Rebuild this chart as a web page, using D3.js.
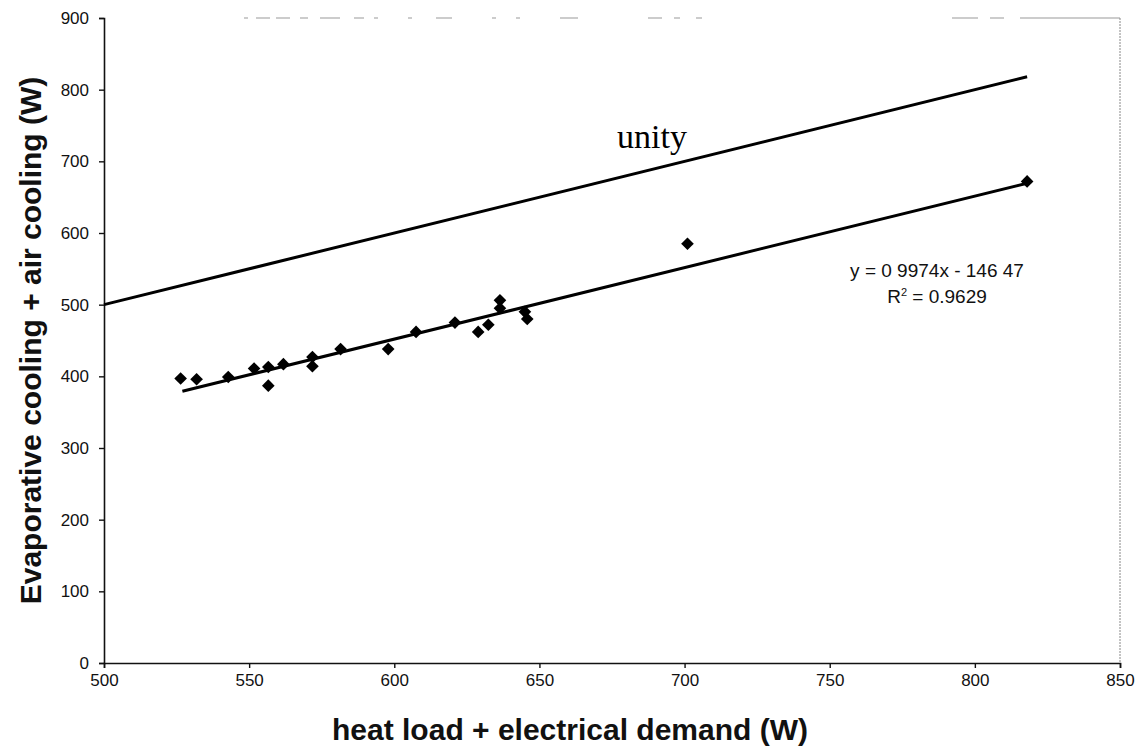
<!DOCTYPE html>
<html>
<head>
<meta charset="utf-8">
<script src="https://cdn.jsdelivr.net/npm/d3@7"></script>
<style>
  body { margin: 0; background: #fff; }
  svg { display: block; font-family: "Liberation Sans", Arial, sans-serif; }
</style>
</head>
<body>
<div id="chart"></div>
<script>
// measured points: heat load + electrical demand (W) vs evaporative + air cooling (W)
const demandW = [526.4, 531.9, 542.8, 551.7, 556.6, 556.6, 561.8, 571.8, 571.8, 581.5,
                 597.9, 607.5, 620.9, 628.9, 632.4, 636.4, 636.4, 645.0, 645.8, 701.0, 818.0];
const coolingW = [397, 396, 399, 411, 413, 387, 417, 427, 414, 438,
                  438, 462, 475, 462, 472, 506, 495, 490, 480, 585, 672];

// trend line (from the chart label) and unity line
const fitSlope = 0.9974;
const fitIntercept = -146.47;
const fitRange = [527, 818];
const unityRange = [500, 818];

const xTicks = [500, 550, 600, 650, 700, 750, 800, 850];
const yTicks = [0, 100, 200, 300, 400, 500, 600, 700, 800, 900];

const width = 1137;
const height = 750;
const margin = {top: 18, right: 17, bottom: 87, left: 104};
const w = width - margin.left - margin.right;
const h = height - margin.top - margin.bottom;

const svg = d3.select('#chart')
              .append('svg')
              .attr('width', width)
              .attr('height', height);

const g = svg.append('g')
             .attr('transform', `translate(${margin.left}, ${margin.top})`);

const xScale = d3.scaleLinear().domain([500, 850]).range([0, w]);
const yScale = d3.scaleLinear().domain([0, 900]).range([h, 0]);

// scanned frame: faint broken top edge and dotted right edge
g.append('line')
 .attr('x1', 0).attr('x2', w)
 .attr('y1', 0).attr('y2', 0)
 .attr('stroke', '#999')
 .attr('stroke-width', 1)
 .attr('stroke-dasharray', '0 140 4 8 14 6 14 10 8 12 20 14 10 10 4 30 4 24 16 40 4 20 4 40 18 70 14 12 6 16 6 250 26 12 14 16 4');
g.append('line')
 .attr('x1', w).attr('x2', w)
 .attr('y1', 0).attr('y2', h)
 .attr('stroke', '#888')
 .attr('stroke-width', 1)
 .attr('stroke-dasharray', '2 1');

// axes
const xAxis = g.append('g')
               .attr('transform', `translate(0, ${h})`)
               .call(d3.axisBottom(xScale).tickValues(xTicks).tickSize(5).tickPadding(6));
const yAxis = g.append('g')
               .call(d3.axisLeft(yScale).tickValues(yTicks).tickSize(5).tickPadding(10));

[xAxis, yAxis].forEach(a => {
  a.select('.domain').attr('stroke', '#111').attr('stroke-width', 1.6);
  a.selectAll('.tick line').attr('stroke', '#111').attr('stroke-width', 1.4);
  a.selectAll('text')
   .attr('font-family', '"Liberation Sans", Arial, sans-serif')
   .attr('font-size', 17)
   .attr('fill', '#111');
});

// unity line
const line = d3.line()
               .x(d => xScale(d[0]))
               .y(d => yScale(d[1]));

g.append('path')
 .datum(unityRange.map(v => [v, v]))
 .attr('d', line)
 .attr('fill', 'none')
 .attr('stroke', '#000')
 .attr('stroke-width', 3);

// linear fit
g.append('path')
 .datum(fitRange.map(v => [v, fitSlope * v + fitIntercept]))
 .attr('d', line)
 .attr('fill', 'none')
 .attr('stroke', '#000')
 .attr('stroke-width', 3);

// diamond markers
const diamond = d3.symbol().type(d3.symbolSquare).size(80);
g.selectAll('.pt')
 .data(demandW.map((x, i) => [x, coolingW[i]]))
 .join('path')
 .attr('class', 'pt')
 .attr('d', diamond)
 .attr('transform', d => `translate(${xScale(d[0])}, ${yScale(d[1])}) rotate(45)`)
 .attr('fill', '#000');

// labels
g.append('text')
 .attr('x', 652 - margin.left)
 .attr('y', 130)
 .attr('text-anchor', 'middle')
 .attr('font-family', '"Liberation Serif", "Times New Roman", serif')
 .attr('font-size', 34)
 .text('unity');

const eq = g.append('g')
            .attr('font-size', 19)
            .attr('fill', '#111')
            .attr('text-anchor', 'middle');
eq.append('text')
  .attr('x', 937 - margin.left)
  .attr('y', 277 - margin.top)
  .text('y = 0 9974x - 146 47');
const r2 = eq.append('text')
             .attr('x', 937 - margin.left)
             .attr('y', 303 - margin.top);
r2.append('tspan').text('R');
r2.append('tspan').attr('dy', -7).attr('font-size', 11).text('2');
r2.append('tspan').attr('dy', 7).text(' = 0.9629');

// axis titles
svg.append('text')
   .attr('x', 570)
   .attr('y', 740)
   .attr('text-anchor', 'middle')
   .attr('font-weight', 'bold')
   .attr('font-size', 30)
   .attr('fill', '#111')
   .text('heat load + electrical demand (W)');

svg.append('text')
   .attr('transform', `translate(41, ${margin.top + h / 2}) rotate(-90)`)
   .attr('text-anchor', 'middle')
   .attr('font-weight', 'bold')
   .attr('font-size', 30)
   .attr('fill', '#111')
   .text('Evaporative cooling + air cooling (W)');
</script>
</body>
</html>
